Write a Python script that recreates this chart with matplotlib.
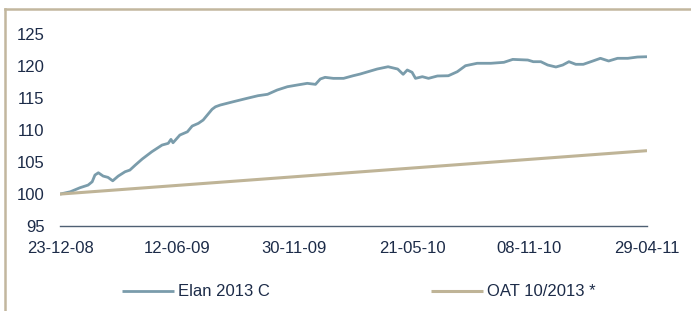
"""
Elan 2013 C vs OAT 10/2013 - base 100 performance chart
"""

import numpy as np
import pandas as pd
import matplotlib
matplotlib.use('Agg')
import matplotlib.pyplot as plt
import matplotlib.dates as mdates
from matplotlib.lines import Line2D

# Elan 2013 C
elan_dates = [
    '2008-12-23', '2009-01-07', '2009-01-21', '2009-02-02', '2009-02-08', '2009-02-12',
    '2009-02-17', '2009-02-24', '2009-03-03', '2009-03-10', '2009-03-18', '2009-03-28',
    '2009-04-04', '2009-04-12', '2009-04-22', '2009-05-06', '2009-05-21', '2009-05-30',
    '2009-06-03', '2009-06-06', '2009-06-16', '2009-06-27', '2009-07-04', '2009-07-13',
    '2009-07-20', '2009-08-02', '2009-08-07', '2009-08-14', '2009-09-02', '2009-09-22',
    '2009-10-08', '2009-10-22', '2009-11-05', '2009-11-20', '2009-12-04', '2009-12-19',
    '2009-12-31', '2010-01-07', '2010-01-14', '2010-01-26', '2010-02-10', '2010-02-24',
    '2010-03-06', '2010-03-31', '2010-04-16', '2010-04-30', '2010-05-08', '2010-05-14',
    '2010-05-21', '2010-05-26', '2010-06-05', '2010-06-14', '2010-06-27', '2010-07-13',
    '2010-07-26', '2010-08-07', '2010-08-24', '2010-09-13', '2010-10-02', '2010-10-15',
    '2010-11-06', '2010-11-14', '2010-11-25', '2010-12-05', '2010-12-17', '2010-12-27',
    '2011-01-05', '2011-01-15', '2011-01-26', '2011-02-09', '2011-02-20', '2011-03-04',
    '2011-03-17', '2011-04-01', '2011-04-15', '2011-04-29',
]
elan_values = [
    100.0, 100.36, 100.99, 101.41, 101.93, 102.98,
    103.34, 102.82, 102.62, 102.08, 102.82, 103.5,
    103.76, 104.55, 105.49, 106.63, 107.68, 107.95,
    108.57, 108.04, 109.25, 109.76, 110.66, 111.08,
    111.6, 113.28, 113.68, 113.95, 114.47, 115.0,
    115.41, 115.63, 116.3, 116.82, 117.08, 117.35,
    117.19, 118.03, 118.29, 118.13, 118.13, 118.54,
    118.8, 119.59, 119.95, 119.59, 118.76, 119.44,
    119.08, 118.13, 118.39, 118.13, 118.5, 118.54,
    119.17, 120.11, 120.49, 120.49, 120.64, 121.1,
    121.0, 120.74, 120.74, 120.22, 119.91, 120.22,
    120.74, 120.33, 120.33, 120.85, 121.27, 120.85,
    121.27, 121.27, 121.47, 121.52,
]

# OAT 10/2013 *
oat_dates = ['2008-12-23', '2011-04-29']
oat_values = [100.0, 106.8]

tick_dates = ['2008-12-23', '2009-06-12', '2009-11-30', '2010-05-21', '2010-11-08', '2011-04-29']
y_ticks = [95, 100, 105, 110, 115, 120, 125]

ELAN_COLOR = '#7a9cab'
OAT_COLOR = '#bfb497'
FRAME_COLOR = '#c2b79e'
TEXT_COLOR = '#1c2b48'
AXIS_COLOR = '#4f6073'


def main():
    plt.rcParams['font.family'] = ['Liberation Sans', 'DejaVu Sans']

    fig = plt.figure(figsize=(6.91, 3.11), dpi=100)
    ax = fig.add_axes([60 / 691, 1 - 226 / 311, 587 / 691, (226 - 34.5) / 311])

    ax.plot(pd.to_datetime(elan_dates), elan_values, color=ELAN_COLOR, lw=2.0,
            label='Elan 2013 C', solid_capstyle='butt')
    ax.plot(pd.to_datetime(oat_dates), oat_values, color=OAT_COLOR, lw=2.2,
            label='OAT 10/2013 *', solid_capstyle='butt')

    ax.set_xlim(pd.Timestamp(tick_dates[0]), pd.Timestamp(tick_dates[-1]))
    ax.set_ylim(95, 125)
    ax.set_xticks(pd.to_datetime(tick_dates))
    ax.xaxis.set_major_formatter(mdates.DateFormatter('%d-%m-%y'))
    ax.set_yticks(y_ticks)

    for side in ['top', 'right', 'left']:
        ax.spines[side].set_visible(False)
    ax.spines['bottom'].set_color(AXIS_COLOR)
    ax.spines['bottom'].set_linewidth(1.0)

    ax.tick_params(axis='x', length=0, pad=11, labelsize=12, labelcolor=TEXT_COLOR)
    ax.tick_params(axis='y', length=0, pad=11, labelsize=12, labelcolor=TEXT_COLOR)

    fig.legend(loc='center', bbox_to_anchor=(359 / 691, 1 - 292 / 311), ncol=2,
               frameon=False, fontsize=12, handlelength=3.1, handletextpad=0.25,
               columnspacing=9.7, labelcolor=TEXT_COLOR)

    # outer frame (only top and left edges show)
    fig.add_artist(Line2D([5 / 691, 1.0], [1 - 9 / 311, 1 - 9 / 311],
                          transform=fig.transFigure, color=FRAME_COLOR, lw=1.8))
    fig.add_artist(Line2D([5 / 691, 5 / 691], [0.0, 1 - 9 / 311],
                          transform=fig.transFigure, color=FRAME_COLOR, lw=1.8))

    fig.savefig('out.png', dpi=100)


if __name__ == "__main__":
    main()
